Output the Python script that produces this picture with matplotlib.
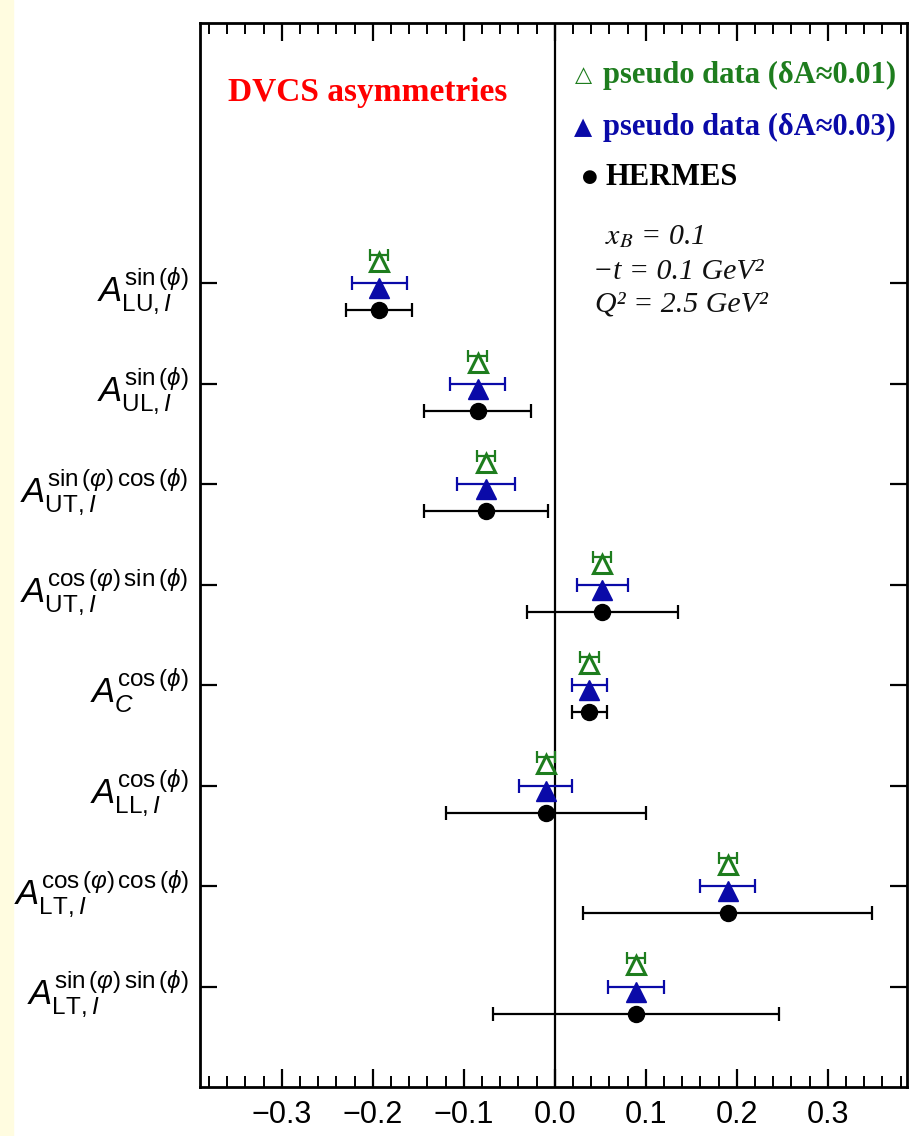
import numpy as np
import matplotlib
matplotlib.use('Agg')
import matplotlib.pyplot as plt
from matplotlib.patches import Rectangle
from matplotlib.ticker import MultipleLocator, FixedLocator

plt.rcParams['font.family'] = ['Liberation Sans', 'DejaVu Sans']
plt.rcParams['mathtext.fontset'] = 'custom'
plt.rcParams['mathtext.rm'] = 'Liberation Sans'
plt.rcParams['mathtext.it'] = 'Liberation Sans:italic'
plt.rcParams['mathtext.sf'] = 'Liberation Sans'

GREEN = '#1E7D1E'
BLUE = '#0A0AA8'

# asymmetry labels, top to bottom
labels = [
    r'$A^{\mathrm{sin}\,(\phi)}_{\mathrm{LU},\mathit{I}}$',
    r'$A^{\mathrm{sin}\,(\phi)}_{\mathrm{UL},\mathit{I}}$',
    r'$A^{\mathrm{sin}\,(\varphi)\,\mathrm{cos}\,(\phi)}_{\mathrm{UT},\mathit{I}}$',
    r'$A^{\mathrm{cos}\,(\varphi)\,\mathrm{sin}\,(\phi)}_{\mathrm{UT},\mathit{I}}$',
    r'$A^{\mathrm{cos}\,(\phi)}_{C}$',
    r'$A^{\mathrm{cos}\,(\phi)}_{\mathrm{LL},\mathit{I}}$',
    r'$A^{\mathrm{cos}\,(\varphi)\,\mathrm{cos}\,(\phi)}_{\mathrm{LT},\mathit{I}}$',
    r'$A^{\mathrm{sin}\,(\varphi)\,\mathrm{sin}\,(\phi)}_{\mathrm{LT},\mathit{I}}$',
]
asym = [-0.193, -0.085, -0.076, 0.052, 0.038, -0.010, 0.190, 0.089]
hermes_err = [0.036, 0.059, 0.068, 0.083, 0.019, 0.110, 0.159, 0.157]
pseudo_err_003 = [0.030, 0.030, 0.032, 0.028, 0.019, 0.029, 0.030, 0.031]
pseudo_err_001 = [0.010, 0.010, 0.010, 0.010, 0.010, 0.010, 0.010, 0.010]

rows = np.arange(len(labels))[::-1] + 1.0
asym = np.array(asym)

fig = plt.figure(figsize=(9.09, 11.36), dpi=100)
fig.patches.append(Rectangle((0, 0), 13 / 909, 1, transform=fig.transFigure,
                             color='#FFFCE0', zorder=-5))
ax = fig.add_axes([0.22, 0.0431, 0.7778, 0.9367])

ax.axvline(0.0, color='black', lw=1.6, zorder=1)

# HERMES
ax.errorbar(asym, rows - 0.27, xerr=hermes_err, fmt='o', color='black',
            ms=11.5, elinewidth=1.6, capsize=5, capthick=1.6, zorder=3)
# pseudo data dA ~ 0.03
ax.errorbar(asym, rows, xerr=pseudo_err_003, fmt='none', ecolor=BLUE,
            elinewidth=1.6, capsize=5, capthick=1.6, zorder=3)
ax.plot(asym, rows - 0.05, '^', color=BLUE, ms=15, zorder=4)
# pseudo data dA ~ 0.01
ax.errorbar(asym, rows + 0.28, xerr=pseudo_err_001, fmt='none', ecolor=GREEN,
            elinewidth=1.6, capsize=4.5, capthick=1.6, zorder=3)
ax.plot(asym, rows + 0.21, '^', mfc='white', mec=GREEN, mew=2.2, ms=13, zorder=4)

ax.set_xlim(-0.39, 0.387)
ax.set_ylim(0, 10.59)
ax.xaxis.set_major_locator(MultipleLocator(0.1))
ax.xaxis.set_minor_locator(MultipleLocator(0.02))
ax.yaxis.set_major_locator(FixedLocator(rows))
ax.set_yticklabels(labels)
ax.xaxis.set_major_formatter(matplotlib.ticker.FuncFormatter(
    lambda v, p: f'{v:.1f}'.replace('-', '\u2212') if abs(v) > 1e-9 else '0.0'))

ax.tick_params(axis='x', which='major', direction='in', length=13, width=1.6,
               top=True, labelsize=22, pad=9)
ax.tick_params(axis='x', which='minor', direction='in', length=8, width=1.4, top=True)
ax.tick_params(axis='y', which='major', direction='in', length=12, width=1.6,
               right=True, labelsize=25, pad=8)
for s in ax.spines.values():
    s.set_linewidth(2)

ax.text(0.040, 0.935, 'DVCS asymmetries', transform=ax.transAxes, color='red',
        fontsize=24, fontweight='bold', family='Liberation Serif', va='center')

serif = ['Liberation Serif', 'DejaVu Serif']
ax.text(0.542, 0.951, '\u25b3', transform=ax.transAxes, color=GREEN, fontsize=16,
        family=['DejaVu Sans'], fontweight='bold', va='center', ha='center')
ax.text(0.570, 0.951, 'pseudo data (\u03b4A\u22480.01)', transform=ax.transAxes,
        color=GREEN, fontsize=22, fontweight='bold', family=serif, va='center')
ax.text(0.542, 0.902, '\u25b2', transform=ax.transAxes, color=BLUE, fontsize=17,
        family=['DejaVu Sans'], va='center', ha='center')
ax.text(0.570, 0.902, 'pseudo data (\u03b4A\u22480.03)', transform=ax.transAxes,
        color=BLUE, fontsize=22, fontweight='bold', family=serif, va='center')
ax.text(0.552, 0.855, '\u25cf', transform=ax.transAxes, color='black', fontsize=13,
        family=['DejaVu Sans'], va='center', ha='center')
ax.text(0.573, 0.855, 'HERMES', transform=ax.transAxes, color='black',
        fontsize=22, fontweight='bold', family=serif, va='center')

kin = dict(transform=ax.transAxes, color='#111111', fontsize=21.5, style='italic',
           family=serif, math_fontfamily='stix', va='center')
ax.text(0.573, 0.799, r'$x_B$ = 0.1', **kin)
ax.text(0.556, 0.766, '\u2212t = 0.1 GeV\u00b2', **kin)
ax.text(0.559, 0.735, 'Q\u00b2 = 2.5 GeV\u00b2', **kin)

fig.savefig('out.png', dpi=100)
